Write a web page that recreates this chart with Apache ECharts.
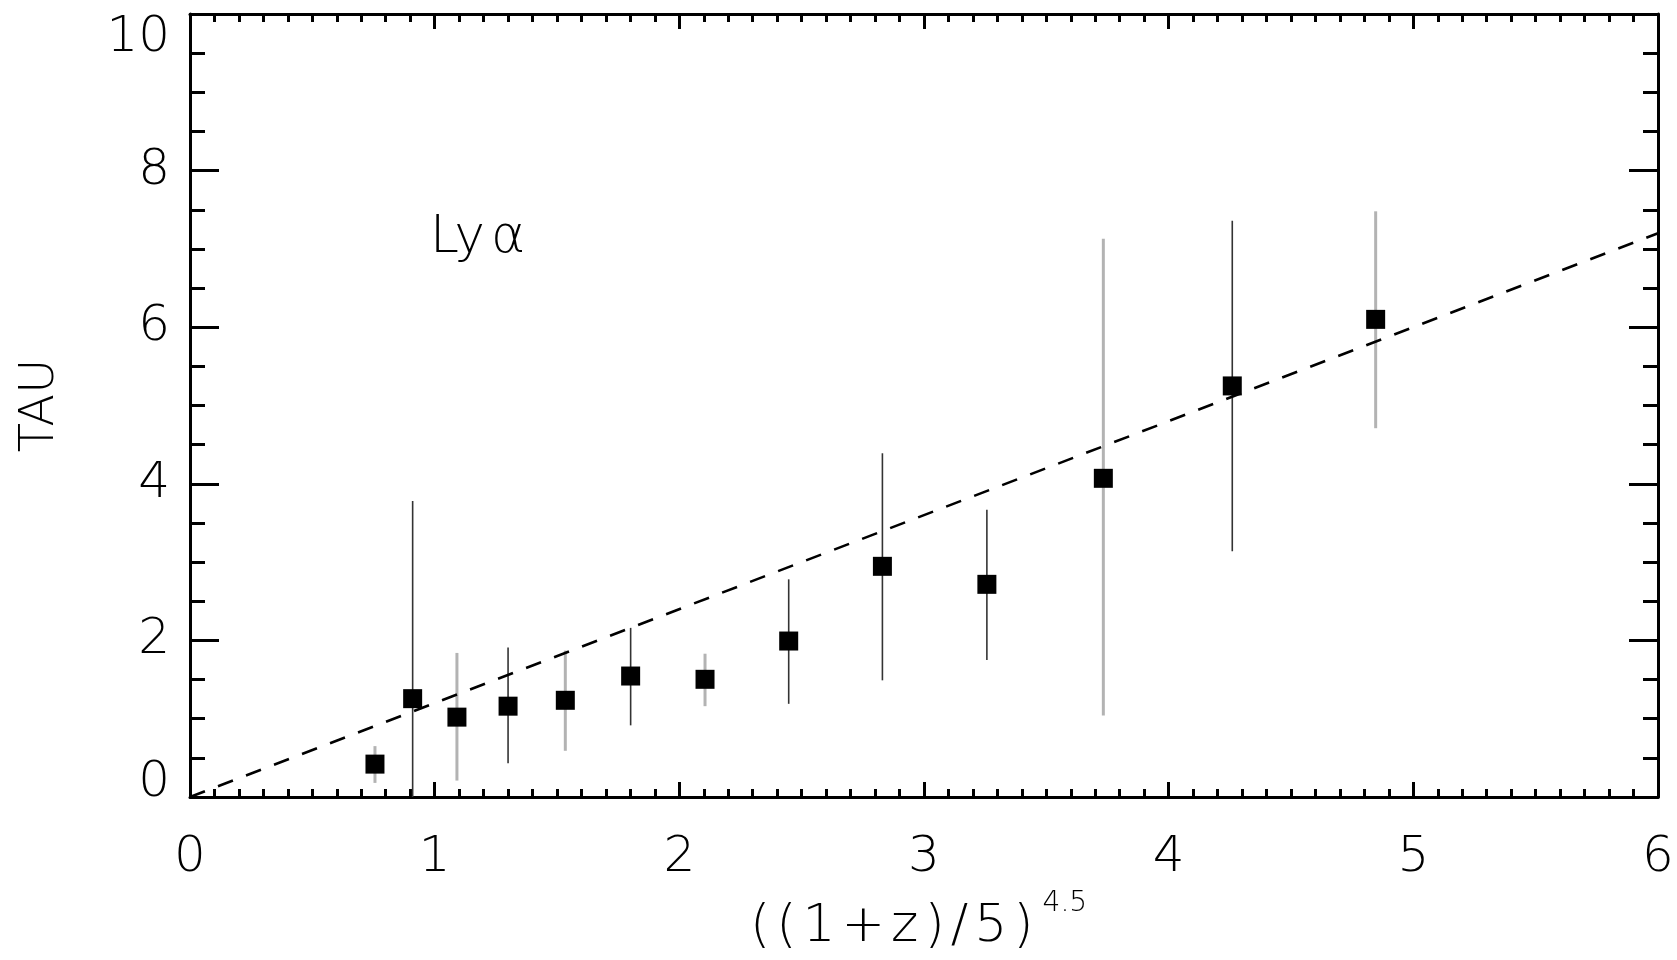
<!DOCTYPE html>
<html>
<head>
<meta charset="utf-8">
<script src="https://cdn.jsdelivr.net/npm/echarts@6/dist/echarts.min.js"></script>
<style>
html,body{margin:0;padding:0;background:#fff;}
#chart{width:1677px;height:960px;}
</style>
</head>
<body>
<div id="chart"></div>
<script>
// ---- data ----
const xVals   = [0.756, 0.910, 1.091, 1.300, 1.534, 1.801, 2.105, 2.447, 2.830, 3.257, 3.733, 4.260, 4.846];
const tauVals = [0.42, 1.256, 1.02, 1.16, 1.235, 1.545, 1.503, 1.992, 2.946, 2.716, 4.07, 5.25, 6.10];
const tauLow  = [0.18, 0.00, 0.21, 0.43, 0.59, 0.915, 1.16, 1.19, 1.49, 1.75, 1.04, 3.14, 4.71];
const tauHigh = [0.65, 3.78, 1.84, 1.91, 1.87, 2.16, 1.83, 2.78, 4.39, 3.67, 7.13, 7.36, 7.48];
const errKind = ['grey','black','grey','black','grey','black','grey','black','black','black','grey','black','grey'];
const fitX = [0, 6];
const fitY = [0, 7.2];
const xTitleChars = ['(', '(', '1', '+', 'z', ')', '/', '5', ')'];
const xTitleSup = '4.5';
const yTitle = 'TAU';
const annotation = 'Ly';
const annotationGreek = 'α';

const FONT = '"DejaVu Sans", "Noto Sans", sans-serif';
const FW = 200;
const errStyle = { grey: { stroke: '#b3b3b3', lineWidth: 3 }, black: { stroke: '#333333', lineWidth: 1.6 } };

const points = xVals.map((x, i) => [x, tauVals[i]]);
const errData = xVals.map((x, i) => [x, tauLow[i], tauHigh[i], i]);
const fitData = fitX.map((x, i) => [x, fitY[i]]);

const chart = echarts.init(document.getElementById('chart'), null, { renderer: 'canvas' });

const axisLineStyle = { color: '#000', width: 3 };
const xName = xTitleChars.map(c => '{c|' + c + '}').join('') + '{b|' + xTitleSup + '}';

function xAxisDef(pos, showLabel) {
  return {
    type: 'value', position: pos, min: 0, max: 6, interval: 1,
    axisLine: { show: true, onZero: false, lineStyle: axisLineStyle },
    axisTick: { show: true, inside: true, length: 15, lineStyle: { color: '#000', width: 3 } },
    minorTick: { show: true, splitNumber: 10, length: 8, lineStyle: { color: '#000', width: 3 } },
    splitLine: { show: false }, minorSplitLine: { show: false },
    axisLabel: { show: showLabel, margin: 36, fontSize: 50, fontFamily: FONT, fontWeight: FW, color: '#000', showMinLabel: true, showMaxLabel: true },
    name: showLabel ? xName : '',
    nameLocation: 'middle', nameGap: 93,
    nameTextStyle: {
      rich: {
        c: { fontSize: 52, fontFamily: FONT, fontWeight: FW, color: '#000', lineHeight: 74, padding: [0, 3, 0, 3] },
        b: { fontSize: 28, fontFamily: FONT, fontWeight: FW, color: '#000', verticalAlign: 'top', lineHeight: 28, padding: [0, 14, 0, 6] }
      }
    }
  };
}
function yAxisDef(pos, showLabel) {
  return {
    type: 'value', position: pos, min: 0, max: 10, interval: 2,
    axisLine: { show: true, onZero: false, lineStyle: axisLineStyle },
    axisTick: { show: true, inside: true, length: 29, lineStyle: { color: '#000', width: 3 } },
    minorTick: { show: true, splitNumber: 4, length: 15, lineStyle: { color: '#000', width: 3 } },
    splitLine: { show: false }, minorSplitLine: { show: false },
    axisLabel: {
      show: showLabel, margin: 20, fontSize: 50, fontFamily: FONT, fontWeight: FW, color: '#000',
      showMinLabel: true, showMaxLabel: true,
      formatter: function (v) {
        if (v === 0) return '{lo|' + v + '}';
        if (v === 10) return '{hi|' + v + '}';
        return String(v);
      },
      rich: {
        lo: { fontSize: 50, fontFamily: FONT, fontWeight: FW, color: '#000', padding: [0, 0, 28, 0] },
        hi: { fontSize: 50, fontFamily: FONT, fontWeight: FW, color: '#000', padding: [48, 0, 0, 0] }
      }
    },
    name: showLabel ? yTitle : '',
    nameLocation: 'middle', nameGap: 125, nameRotate: 90,
    nameTextStyle: { fontSize: 48, fontFamily: FONT, fontWeight: FW, color: '#000' }
  };
}

chart.setOption({
  animation: false,
  backgroundColor: '#fff',
  grid: { left: 190, right: 19, top: 14, bottom: 163, containLabel: false },
  xAxis: [xAxisDef('bottom', true), xAxisDef('top', false)],
  yAxis: [yAxisDef('left', true), yAxisDef('right', false)],
  graphic: [{
    type: 'text', left: 430, top: 212,
    style: {
      text: '{n|' + annotation + '}{g|' + annotationGreek + '}',
      rich: {
        n: { fontSize: 52, fontFamily: FONT, fontWeight: FW, fill: '#000' },
        g: { fontSize: 52, fontFamily: FONT, fontWeight: FW, fill: '#000', padding: [0, 0, 0, 6] }
      }
    }
  }],
  series: [
    {
      type: 'custom', xAxisIndex: 0, yAxisIndex: 0, data: errData, z: 2,
      renderItem: function (params, api) {
        const p1 = api.coord([api.value(0), api.value(1)]);
        const p2 = api.coord([api.value(0), api.value(2)]);
        const st = errStyle[errKind[api.value(3)]];
        return { type: 'line', shape: { x1: p1[0], y1: p1[1], x2: p2[0], y2: p2[1] }, style: { stroke: st.stroke, lineWidth: st.lineWidth } };
      },
      encode: { x: 0, y: [1, 2] }, silent: true
    },
    {
      type: 'scatter', xAxisIndex: 0, yAxisIndex: 0, data: points, symbol: 'rect', symbolSize: 19,
      itemStyle: { color: '#000', opacity: 1 }, z: 3, silent: true
    },
    {
      type: 'line', xAxisIndex: 0, yAxisIndex: 0, data: fitData, showSymbol: false, symbol: 'none',
      lineStyle: { color: '#000', width: 2.6, type: [16, 14] }, z: 4, silent: true, clip: true
    }
  ]
});
</script>
</body>
</html>
